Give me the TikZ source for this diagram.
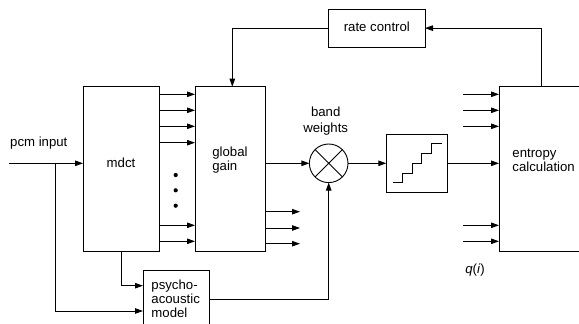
\documentclass[tikz,border=0pt]{standalone}
\usepackage{fontspec}
\setmainfont{Liberation Sans}
\usetikzlibrary{arrows.meta,calc}
\begin{document}
\begin{tikzpicture}[x=1pt,y=-1pt,
  line width=0.9pt,
  arr/.style={-{Triangle[length=8pt,width=5.5pt]}},
  blk/.style={draw, rectangle, inner sep=0pt, outer sep=0pt},
  lbl/.style={font=\fontsize{13.2}{14}\selectfont, align=left, inner sep=0pt},
]
\useasboundingbox (0,0) rectangle (579,324);

% processing blocks
\node[blk, minimum width=76pt,   minimum height=164.3pt] (mdct)  at (121,168.85) {};
\node[blk, minimum width=70pt,   minimum height=164.3pt] (gain)  at (230,168.85) {};
\node[blk, minimum width=66pt,   minimum height=60pt]    (psy)   at (176,300) {};
\node[blk, minimum width=61.4pt, minimum height=58.4pt]  (quant) at (417,163.5) {};
\node[blk, minimum width=141pt,  minimum height=164.3pt] (ent)   at (569.5,168.85) {};
\node[blk, minimum width=96.3pt, minimum height=38.3pt]  (rate)  at (376.85,28.15) {};
\node[draw, circle, minimum size=38.6pt, inner sep=0pt, outer sep=0pt] (mult) at (328.7,163.3) {};
\draw (mult.45) -- (mult.225) (mult.135) -- (mult.315);

% labels
\node[lbl] (tpcm)  at (38.8,143)  {pcm input};
\node[lbl] (tmdct) at (121,163)   {mdct};
\node[lbl] (tgain) at (230,160)   {global\\gain};
\node[lbl, anchor=west] (tent) at (512,160) {entropy\\calculation};
\node[lbl, anchor=west] (tpsy) at (151,299) {psycho-\\acoustic\\model};
\node[lbl] (trate) at (376.85,27) {rate control};
\node[lbl, align=center, font=\fontsize{13.2}{16}\selectfont] (tband) at (325.7,121) {band\\weights};
\node[lbl] (tq) at (475,270) {\textit{q}(\textit{i})};

% quantiser staircase
\draw ($(quant.south west)+(6.4,-10)$) -- ++(10,0) -- ++(0,-9.4) -- ++(9.6,0) -- ++(0,-9.4)
  -- ++(9.4,0) -- ++(0,-10) -- ++(10,0) -- ++(0,-10) -- ++(10.3,0);

% pcm input and its branch
\coordinate (pcm) at (9,163.3);
\coordinate (br) at (55,163.3);
\draw[arr] (pcm) -- (mdct.west |- pcm);
\draw[arr] (br) |- (psy.west |- 0,311);
\draw[arr] (mdct.south) |- (psy.west |- 0,285.7);

% spectral bands from mdct to global gain
\foreach \y in {94.3,110.3,126.3,142.7,225.3,241.3}
  \draw[arr] (mdct.east |- 0,\y) -- (gain.west |- 0,\y);
\foreach \y in {175,190.3,205.7}
  \fill (175.7,\y) circle (2.1pt);

% further gain outputs
\foreach \y [count=\i] in {211.7,228,243.7} {
  \coordinate (go\i) at (300,\y);
  \draw[arr] (gain.east |- go\i) -- (go\i);
}

% main signal path
\draw[arr] (gain.east |- mult) -- (mult.west);
\draw[arr] (psy.east |- 0,299) -| (mult.south);
\draw[arr] (mult.east) -- (quant.west |- mult);
\draw[arr] (quant.east |- mult) -- (ent.west |- mult);

% other inputs to entropy calculation
\foreach \y [count=\i] in {94.3,110.3,126.3,225.3,241.3} {
  \coordinate (ei\i) at (463.3,\y);
  \draw[arr] (ei\i) -- (ent.west |- ei\i);
}

% rate control loop
\draw[arr] ($(ent.north west)+(42,0)$) |- (rate.east);
\draw[arr] (rate.west) -| ($(gain.north west)+(37.3,0)$);
\end{tikzpicture}
\end{document}
